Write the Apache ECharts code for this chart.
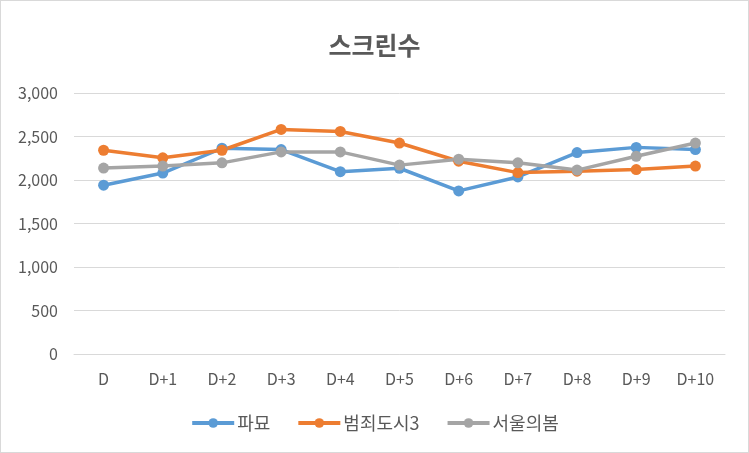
<!DOCTYPE html>
<html><head><meta charset="utf-8">
<script src="https://cdn.jsdelivr.net/npm/echarts@6/dist/echarts.min.js"></script>
<style>html,body{margin:0;padding:0;background:#fff}#c{width:749px;height:453px;box-sizing:border-box;border:1px solid #d9d9d9}</style>
</head><body><div id="c"></div>
<script>
const categories = ['D','D+1','D+2','D+3','D+4','D+5','D+6','D+7','D+8','D+9','D+10'];
const pamyo = [1940, 2080, 2365, 2350, 2095, 2135, 1875, 2035, 2315, 2375, 2350];
const crime3 = [2342, 2255, 2342, 2581, 2558, 2425, 2216, 2085, 2102, 2120, 2160];
const seoulSpring = [2137, 2160, 2197, 2323, 2323, 2171, 2239, 2197, 2114, 2273, 2425];
const yTicks = [0, 500, 1000, 1500, 2000, 2500, 3000];
const font = '"Noto Sans CJK KR","Noto Sans",sans-serif';
const chart = echarts.init(document.getElementById('c'));
function s(name, data, color){
  return {name, type:'line', data, symbol:'circle', symbolSize:11, lineStyle:{width:3.5,color}, itemStyle:{color}, emphasis:{disabled:true}};
}
chart.setOption({
  animation:false,
  textStyle:{fontFamily:font},
  title:{text:'스크린수', left:'center', top:27, textStyle:{fontSize:25, fontWeight:'bold', color:'#595959', fontFamily:font}},
  grid:{left:73, right:23, top:92, bottom:98, containLabel:false},
  legend:{bottom:15, left:'center', itemWidth:42, itemHeight:12, itemGap:26,
    lineStyle:{width:4},
    textStyle:{fontSize:18, color:'#595959', fontFamily:font, padding:[0,0,0,-2]},
    data:['파묘','범죄도시3','서울의봄']},
  xAxis:{type:'category', data:categories, boundaryGap:true,
    axisLine:{lineStyle:{color:'#d9d9d9'}}, axisTick:{show:false},
    axisLabel:{color:'#595959', fontSize:16, margin:17, fontFamily:font}},
  yAxis:{type:'value', min:yTicks[0], max:yTicks[yTicks.length-1], interval:500,
    axisLine:{show:false}, axisTick:{show:false},
    splitLine:{lineStyle:{color:'#d9d9d9'}},
    axisLabel:{color:'#595959', fontSize:16, margin:16, fontFamily:font,
      formatter:v=>v.toLocaleString('en-US')}},
  series:[s('파묘',pamyo,'#5B9BD5'), s('범죄도시3',crime3,'#ED7D31'), s('서울의봄',seoulSpring,'#A5A5A5')]
});
</script></body></html>
